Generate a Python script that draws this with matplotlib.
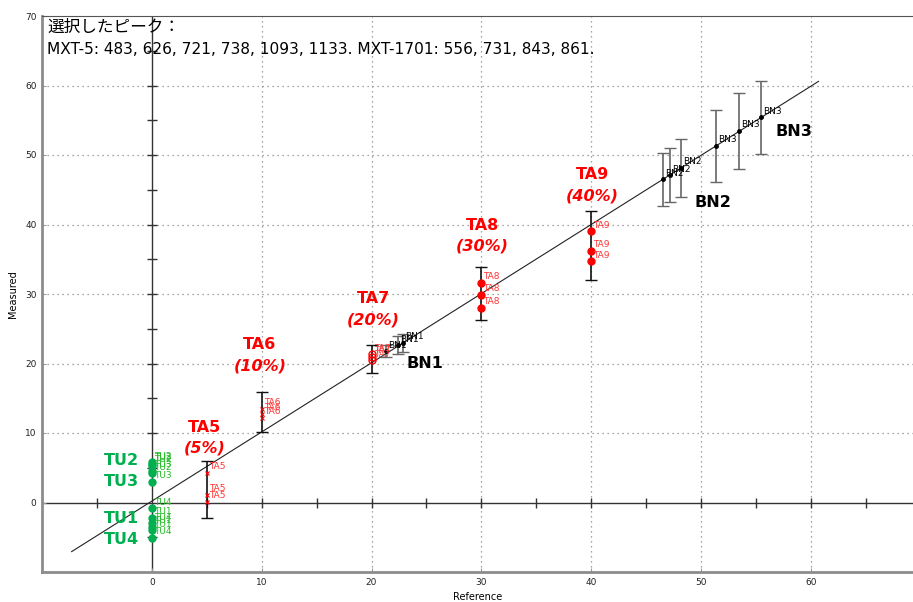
import numpy as np
import matplotlib
matplotlib.use("Agg")
import matplotlib.pyplot as plt

plt.rcParams["font.family"] = ["Noto Sans CJK JP", "DejaVu Sans"]

RED, GREEN, LGREEN, INK = "#ff0000", "#00b050", "#22bb22", "#000000"

# individual measurements ------------------------------------------------------
tu_x = [0, 0, 0, 0, 0, 0, 0, 0, 0, 0, 0, 0]
tu_y = [5.8, 5.6, 5.3, 4.6, 4.2, 3.0, -0.8, -2.2, -3.0, -3.5, -4.0, -5.1]
tu_lab = ["TU2", "TU3", "TU2", "TU3", "TU2", "TU3",
          "TU4", "TU1", "TU4", "TU1", "TU1", "TU4"]

ta_x = [5, 5, 5, 10, 10, 10, 20, 20, 20, 30, 30, 30, 40, 40, 40]
ta_y = [4.3, 1.1, 0.1, 13.5, 12.8, 12.2, 21.3, 21.0, 20.5, 31.6, 29.9, 28.0, 39.0, 36.2, 34.7]
ta_lab = ["TA5"] * 3 + ["TA6"] * 3 + ["TA7"] * 3 + ["TA8"] * 3 + ["TA9"] * 3

bn_x = [21.3, 22.4, 22.9, 46.5, 47.2, 48.2, 51.4, 53.5, 55.5]
bn_y = [21.8, 22.6, 23.0, 46.5, 47.1, 48.2, 51.3, 53.5, 55.4]
bn_lab = ["BN1"] * 3 + ["BN2"] * 3 + ["BN3"] * 3
bn_lo = [20.9, 21.3, 21.6, 42.7, 43.2, 44.0, 46.1, 48.0, 50.2]
bn_hi = [22.7, 24.0, 24.3, 50.3, 51.0, 52.3, 56.5, 58.9, 60.6]

# spread of each spiked group
grp_x = [5, 10, 20, 30, 40]
grp_lo = [-2.2, 10.1, 18.7, 26.3, 32.0]
grp_hi = [6.0, 15.9, 22.7, 33.9, 42.0]
grp_name = ["TA5", "TA6", "TA7", "TA8", "TA9"]
grp_pct = ["(5%)", "(10%)", "(20%)", "(30%)", "(40%)"]

# fitted line
fit_x = [-7.3, 60.7]
slope, icept = 0.995, 0.2

fig = plt.figure(figsize=(9.13, 6.02), dpi=100)
ax = fig.add_axes([42 / 913, 30 / 602, 1 - 42 / 913, 556 / 602])
ax.set_xlim(-10, 69.3)
ax.set_ylim(-10, 70)

# dotted grid + solid zero axes with their own small ticks
for v in range(10, 70, 10):
    ax.axvline(v, color="#888888", lw=0.9, ls=(0, (1, 3)), zorder=0)
    ax.axhline(v, color="#888888", lw=0.9, ls=(0, (1, 3)), zorder=0)
ax.axvline(0, color="#333333", lw=1.0, zorder=1)
ax.axhline(0, color="#333333", lw=1.0, zorder=1)
tk = [v for v in range(-5, 70, 5) if v != 0]
ax.plot([0] * len(tk), tk, ls="none", marker="_", ms=7, mew=1.0, color="#333333", zorder=1)
ax.plot(tk, [0] * len(tk), ls="none", marker="|", ms=7, mew=1.0, color="#333333", zorder=1)

fx = np.array(fit_x)
ax.plot(fx, slope * fx + icept, color="#222222", lw=0.8, zorder=2)

# error bars
gx = np.array(grp_x, float)
ax.errorbar(gx, (np.array(grp_lo) + np.array(grp_hi)) / 2, yerr=(np.array(grp_hi) - np.array(grp_lo)) / 2,
            fmt="none", ecolor="#111111", elinewidth=1.2, capsize=4, capthick=1.0, zorder=3)
bx, by = np.array(bn_x), np.array(bn_y)
ax.errorbar(bx, (np.array(bn_lo) + np.array(bn_hi)) / 2, yerr=(np.array(bn_hi) - np.array(bn_lo)) / 2,
            fmt="none", ecolor="#666666", elinewidth=1.2, capsize=4, capthick=1.0, zorder=3)

# points
ax.plot(tu_x, tu_y, "o", color=GREEN, ms=5, zorder=4)
ta_x_a, ta_y_a = np.array(ta_x), np.array(ta_y)
big = ta_x_a >= 30
ax.plot(ta_x_a[big], ta_y_a[big], "o", color=RED, ms=5, zorder=4)
ax.plot(ta_x_a[ta_x_a == 20], ta_y_a[ta_x_a == 20], "o", mfc="none", mec=RED, ms=5, zorder=4)
ax.plot(ta_x_a[ta_x_a <= 10], ta_y_a[ta_x_a <= 10], "x", color=RED, ms=3, mew=0.8, zorder=4)
ax.plot(bx, by, "o", color=INK, ms=2.5, zorder=4)

small = dict(xytext=(1.5, 4.3), textcoords="offset points", va="center", ha="left",
             fontsize=6.5, family="DejaVu Sans", zorder=5)
for x, y, s in zip(tu_x, tu_y, tu_lab):
    ax.annotate(s, (x, y), color=LGREEN, **small)
for x, y, s in zip(ta_x, ta_y, ta_lab):
    ax.annotate(s, (x, y), color="#ff3333", **small)
for x, y, s in zip(bn_x, bn_y, bn_lab):
    ax.annotate(s, (x, y), color=INK, **small)

# group captions
bold = dict(fontsize=11.5, fontweight="bold", ha="center", va="center", family="DejaVu Sans")
cap_pos = [(4.83, 10.8, 7.8), (9.83, 22.8, 19.6), (20.2, 29.4, 26.2), (30.1, 39.9, 36.9), (40.1, 47.2, 44.1)]
for (x, y1, y2), n, p in zip(cap_pos, grp_name, grp_pct):
    ax.text(x, y1, n, color=RED, **bold)
    ax.text(x, y2, p, color=RED, style="italic", **bold)
for x, y, s in [(24.9, 20.0, "BN1"), (51.1, 43.1, "BN2"), (58.5, 53.4, "BN3")]:
    ax.text(x, y, s, color=INK, **bold)
for y, s in [(6.05, "TU2"), (3.0, "TU3"), (-2.3, "TU1"), (-5.3, "TU4")]:
    ax.text(-2.8, y, s, color=GREEN, **bold)

ax.text(0.006, 0.995, "選択したピーク：", transform=ax.transAxes, fontsize=12, va="top", ha="left")
ax.text(0.006, 0.953, "MXT-5: 483, 626, 721, 738, 1093, 1133. MXT-1701: 556, 731, 843, 861.",
        transform=ax.transAxes, fontsize=11.1, va="top", ha="left", family="DejaVu Sans")

ax.set_xticks(range(0, 70, 10))
ax.set_yticks(range(0, 80, 10))
ax.tick_params(direction="in", length=3, width=0.8, color="#999999", labelsize=6.5,
               labelcolor="#222222", pad=4)
for lab in ax.get_xticklabels() + ax.get_yticklabels():
    lab.set_family("DejaVu Sans")
ax.set_xlabel("Reference", fontsize=7, family="DejaVu Sans", labelpad=4)
ax.set_ylabel("Measured", fontsize=7, family="DejaVu Sans", labelpad=5)

for s in ["left", "bottom"]:
    ax.spines[s].set_color("#8c8c8c")
    ax.spines[s].set_linewidth(2.0)
ax.spines["top"].set_color("#555555")
ax.spines["top"].set_linewidth(0.8)
ax.spines["right"].set_visible(False)

fig.savefig("out.png", dpi=100, facecolor="white")
